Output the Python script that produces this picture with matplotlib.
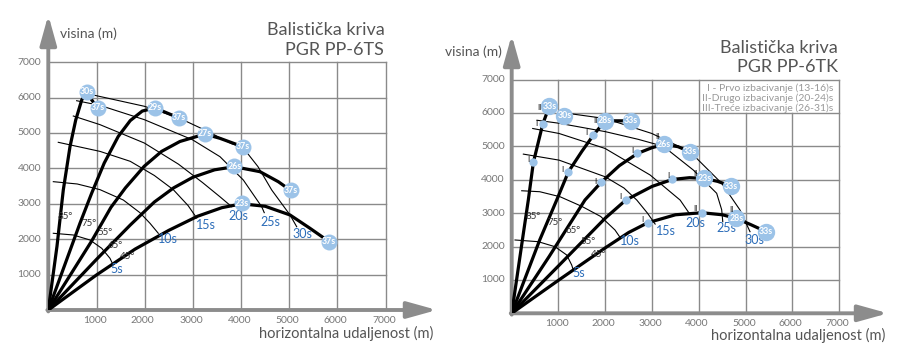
import matplotlib
matplotlib.use("Agg")
import matplotlib.pyplot as plt

plt.rcParams['font.family'] = ['Lato', 'DejaVu Sans']

# ---------------- PGR PP-6TS (left) ----------------
ts_trajectories = {
    "85": [(0, 0), (180, 1800), (311, 3390), (450, 4613), (569, 5367), (693, 5932), (795, 6140), (1023, 5700)],
    "75": [(0, 0), (657, 2450), (900, 3300), (1160, 4150), (1450, 4900), (1700, 5350), (1950, 5620), (2213, 5708), (2711, 5425)],
    "65": [(0, 0), (900, 1950), (1300, 2900), (1600, 3450), (1990, 4060), (2350, 4480), (2730, 4760), (3250, 4970),
           (3560, 4850), (3840, 4710), (4032, 4613)],
    "55": [(0, 0), (1000, 1430), (1700, 2400), (2200, 3050), (2600, 3450), (3000, 3750), (3450, 3960), (3859, 4048),
           (4392, 3907), (4772, 3624), (5028, 3377)],
    "45": [(0, 0), (1000, 990), (1800, 1720), (2500, 2250), (3100, 2650), (3600, 2890), (4011, 3000), (4500, 2930),
           (5015, 2684), (5429, 2308), (5823, 1934)],
}
ts_isochrones = {
    "5s": [(104, 2167), (519, 2119), (865, 1977), (1108, 1743), (1280, 1460), (1336, 1299)],
    "10s": [(104, 3625), (600, 3560), (1072, 3400), (1556, 3107), (1900, 2750), (2110, 2449), (2282, 2167)],
    "15s": [(207, 4737), (1072, 4481), (1700, 4200), (2200, 3800), (2593, 3400), (2900, 2950), (3078, 2600)],
    "20s": [(519, 5480), (1072, 5236), (1992, 4717), (2700, 4120), (3200, 3600), (3560, 3200), (3805, 2918)],
    "25s": [(588, 5912), (1072, 5780), (1992, 5377), (2988, 4811), (3562, 4331), (4046, 3672), (4427, 2918), (4480, 2750)],
    "30s": [(934, 6073), (1992, 5755), (2711, 5425), (3300, 5050), (3800, 4700), (4032, 4600), (4350, 4050),
            (4635, 3390), (5015, 2684), (5153, 2353)],
}
ts_time_labels = ["5s", "10s", "15s", "20s", "25s", "30s"]
ts_time_x = [1418, 2490, 3271, 3942, 4613, 5277]
ts_time_y = [1151, 2000, 2406, 2642, 2500, 2151]

ts_angle_labels = ["85°", "75°", "55°", "65°", "45°"]
ts_angle_x = [346, 851, 1176, 1384, 1639]
ts_angle_y = [2636, 2449, 2184, 1836, 1506]

ts_bubble_labels = ["30s", "37s", "29s", "37s", "27s", "37s", "26s", "37s", "23s", "37s"]
ts_bubble_x = [795, 1023, 2213, 2711, 3250, 4032, 3859, 5028, 4011, 5823]
ts_bubble_y = [6160, 5708, 5708, 5425, 4972, 4613, 4057, 3377, 3019, 1934]

# ---------------- PGR PP-6TK (right) ----------------
tk_trajectories = {
    "85": [(0, 0), (250, 2400), (355, 3393), (463, 4517), (663, 5663), (805, 6201)],
    "75": [(0, 0), (600, 2200), (962, 3393), (1212, 4237), (1500, 4850), (1746, 5334), (1996, 5763), (2552, 5763)],
    "65": [(0, 0), (800, 1700), (1566, 3393), (1910, 3918), (2300, 4420), (2687, 4786), (3000, 4960), (3257, 5055),
           (3550, 4990), (3813, 4835)],
    "55": [(0, 0), (1000, 1420), (2000, 2850), (2438, 3390), (3000, 3800), (3435, 4008), (3800, 4060), (4113, 4038),
           (4400, 3950), (4690, 3809)],
    "45": [(0, 0), (1000, 990), (2000, 1960), (2500, 2420), (2908, 2712), (3500, 2950), (4063, 3011), (4500, 2950),
           (4797, 2842), (5100, 2660), (5438, 2443)],
}
tk_isochrones = {
    "5s": [(71, 2195), (568, 2144), (925, 1994), (1175, 1746), (1282, 1446), (1316, 1296)],
    "10s": [(214, 3669), (600, 3640), (1033, 3490), (1500, 3200), (1900, 2900), (2207, 2494), (2330, 2243)],
    "15s": [(249, 4766), (1012, 4586), (1996, 4088), (2400, 3750), (2673, 3390), (2900, 3000), (3065, 2672)],
    "20s": [(449, 5533), (1012, 5384), (1996, 4935), (2957, 4141), (3599, 3390), (3810, 2960)],
    "25s": [(540, 5780), (1012, 5690), (1996, 5440), (2700, 5210), (3240, 5000), (3880, 4290), (4380, 3593),
            (4487, 3100), (4510, 2742)],
    "30s": [(1126, 6000), (1996, 5832), (2994, 5384), (3810, 4838), (4487, 3892), (4878, 3093), (5092, 2443)],
}
tk_time_labels = ["5s", "10s", "15s", "20s", "25s", "30s"]
tk_time_x = [1426, 2516, 3300, 3934, 4583, 5189]
tk_time_y = [1196, 2164, 2473, 2712, 2562, 2193]

tk_angle_labels = ["85°", "75°", "65°", "55°", "45°"]
tk_angle_x = [462, 925, 1316, 1624, 1850]
tk_angle_y = [2892, 2713, 2473, 2144, 1746]

tk_bubble_labels = ["33s", "30s", "28s", "33s", "26s", "33s", "23s", "33s", "28s", "33s"]
tk_bubble_x = [805, 1126, 1996, 2552, 3257, 3813, 4113, 4690, 4797, 5438]
tk_bubble_y = [6201, 5922, 5763, 5763, 5055, 4835, 4038, 3809, 2842, 2443]

tk_dot_x = [663, 463, 1746, 1212, 2687, 1910, 3435, 2438, 4063, 2908]
tk_dot_y = [5663, 4517, 5334, 4237, 4786, 3918, 4008, 3390, 3011, 2712]

tk_mark_labels = ["II", "I", "I", "II", "I", "I", "II", "I", "I", "II", "I", "I", "II", "I", "II"]
tk_mark_x = [592, 520, 356, 1782, 1604, 1083, 3122, 2580, 1789, 3920, 3350, 2324, 3934, 2801, 4690]
tk_mark_y = [6161, 5683, 4606, 5783, 5404, 4307, 5284, 4885, 3958, 4187, 4137, 3509, 3141, 2822, 3111]

tk_legend = ["I - Prvo izbacivanje (13-16)s",
             "II-Drugo izbacivanje (20-24)s",
             "III-Treće izbacivanje (26-31)s"]

grid_values = [1000, 2000, 3000, 4000, 5000, 6000, 7000]

GRID = '#8a8a8a'
AXIS = '#8c8c8c'
BUBBLE = '#9cc3e8'
BLUE = '#2b6cb8'
TEXT = '#555555'


def draw_frame(ax, xmax, ymax, short_cols=()):
    for v in grid_values:
        top = 6000 if v in short_cols else 7000
        ax.plot([v, v], [0, top], color=GRID, lw=1.0, zorder=1)
        ax.plot([0, 7000], [v, v], color=GRID, lw=1.0, zorder=1)
        ax.text(-150, v, str(v), ha='right', va='center', fontsize=7.5, color='#777777')
        ax.text(v - 40, -310, str(v), ha='center', va='center', fontsize=7.5, color='#777777')
    arrow = dict(arrowstyle='-|>,head_length=0.9,head_width=0.25', mutation_scale=20,
                 color=AXIS, lw=2.8, shrinkA=0, shrinkB=0)
    ax.annotate('', xy=(xmax, 0), xytext=(-20, 0), arrowprops=arrow, zorder=2)
    ax.annotate('', xy=(0, ymax), xytext=(0, -40), arrowprops=arrow, zorder=2)


def draw_curves(ax, trajectories, isochrones):
    for pts in isochrones.values():
        ax.plot([p[0] for p in pts], [p[1] for p in pts], color='black', lw=0.8, zorder=3)
    for pts in trajectories.values():
        ax.plot([p[0] for p in pts], [p[1] for p in pts], color='black', lw=2.3,
                solid_joinstyle='round', solid_capstyle='round', zorder=4)


def draw_labels(ax, time_labels, time_x, time_y, angle_labels, angle_x, angle_y,
                bubble_labels, bubble_x, bubble_y, ms):
    for t, x, y in zip(time_labels, time_x, time_y):
        ax.text(x, y, t, ha='center', va='center', fontsize=9, color=BLUE, zorder=6)
    for t, x, y in zip(angle_labels, angle_x, angle_y):
        ax.text(x, y, t, ha='center', va='center', fontsize=7, color='#333333', zorder=6)
    ax.plot(bubble_x, bubble_y, 'o', ms=ms, color=BUBBLE, mec='none', zorder=7)
    for t, x, y in zip(bubble_labels, bubble_x, bubble_y):
        ax.text(x, y, t, ha='center', va='center', fontsize=6.3, color='white',
                fontweight='bold', zorder=8)


fig = plt.figure(figsize=(9.08, 3.55), dpi=100)

# left chart
ax1 = fig.add_axes([48.3 / 908, 45 / 355, 8200 * 0.0482 / 908, 8600 * 0.0354 / 355])
ax1.set_xlim(0, 8200)
ax1.set_ylim(0, 8600)
ax1.set_axis_off()
draw_frame(ax1, 8064, 8333)
draw_curves(ax1, ts_trajectories, ts_isochrones)
draw_labels(ax1, ts_time_labels, ts_time_x, ts_time_y, ts_angle_labels, ts_angle_x, ts_angle_y,
            ts_bubble_labels, ts_bubble_x, ts_bubble_y, 11.5)
ax1.text(243, 7797, "visina (m)", ha='left', va='center', fontsize=10, color=TEXT)
ax1.text(6972, 7900, "Balistička kriva", ha='right', va='center', fontsize=13, color=TEXT)
ax1.text(6972, 7350, "PGR PP-6TS", ha='right', va='center', fontsize=13, color=TEXT)
ax1.text(7982, -650, "horizontalna udaljenost (m)", ha='right', va='center', fontsize=10.5, color=TEXT)

# right chart
ax2 = fig.add_axes([511.7 / 908, 41.7 / 355, 8300 * 0.0468 / 908, 8500 * 0.0334 / 355])
ax2.set_xlim(0, 8300)
ax2.set_ylim(0, 8500)
ax2.set_axis_off()
draw_frame(ax2, 8041, 8332, short_cols=(5000, 6000))
draw_curves(ax2, tk_trajectories, tk_isochrones)
ax2.plot(tk_dot_x, tk_dot_y, 'o', ms=6, color=BUBBLE, mec='none', zorder=7)
for t, x, y in zip(tk_mark_labels, tk_mark_x, tk_mark_y):
    ax2.text(x, y, t, ha='center', va='center', fontsize=5.5, color='black', zorder=8)
draw_labels(ax2, tk_time_labels, tk_time_x, tk_time_y, tk_angle_labels, tk_angle_x, tk_angle_y,
            tk_bubble_labels, tk_bubble_x, tk_bubble_y, 12.5)
for i, line in enumerate(tk_legend):
    ax2.text(6865, 6746 - 300 * i, line, ha='right', va='center', fontsize=7.5, color='#999999')
ax2.text(-207, 7823, "visina (m)", ha='right', va='center', fontsize=10, color=TEXT)
ax2.text(6966, 7930, "Balistička kriva", ha='right', va='center', fontsize=13, color=TEXT)
ax2.text(6966, 7360, "PGR PP-6TK", ha='right', va='center', fontsize=13, color=TEXT)
ax2.text(7976, -650, "horizontalna udaljenost (m)", ha='right', va='center', fontsize=10.5, color=TEXT)

fig.savefig("out.png", dpi=100)
